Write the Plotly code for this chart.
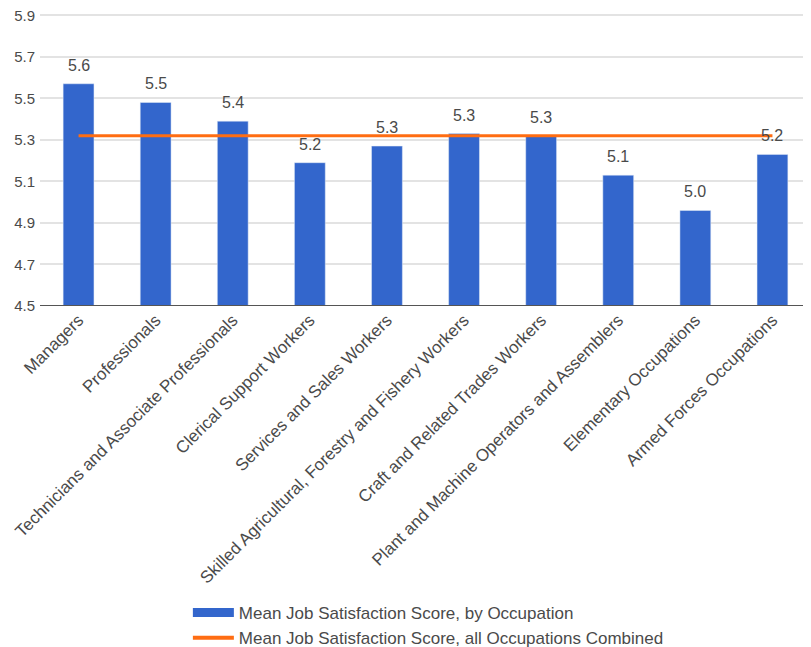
import plotly.graph_objects as go

categories = [
    "Managers",
    "Professionals",
    "Technicians and Associate Professionals",
    "Clerical Support Workers",
    "Services and Sales Workers",
    "Skilled Agricultural, Forestry and Fishery Workers",
    "Craft and Related Trades Workers",
    "Plant and Machine Operators and Assemblers",
    "Elementary Occupations",
    "Armed Forces Occupations",
]
occupation_scores = [5.57, 5.48, 5.39, 5.19, 5.27, 5.33, 5.32, 5.13, 4.96, 5.23]
combined_score = 5.32
combined_series = [combined_score] * len(categories)
y_ticks = [4.5, 4.7, 4.9, 5.1, 5.3, 5.5, 5.7, 5.9]

BLUE = "#3366cc"
ORANGE = "#ff6d12"
FONT = "Liberation Sans, Arial, sans-serif"
TXT = "#4a4a4a"

fig = go.Figure()
fig.add_trace(go.Bar(
    x=categories, y=occupation_scores, marker_color=BLUE,
    showlegend=False, name="Mean Job Satisfaction Score, by Occupation",
))
fig.add_trace(go.Scatter(
    x=categories, y=combined_series, mode="lines",
    line=dict(color=ORANGE, width=3), showlegend=False,
    name="Mean Job Satisfaction Score, all Occupations Combined",
))
# legend entries (wide swatches like the reference)
fig.add_trace(go.Scatter(
    x=[None], y=[None], mode="lines", line=dict(color=BLUE, width=9),
    name="Mean Job Satisfaction Score, by Occupation",
))
fig.add_trace(go.Scatter(
    x=[None], y=[None], mode="lines", line=dict(color=ORANGE, width=4),
    name="Mean Job Satisfaction Score, all Occupations Combined",
))

for c, v in zip(categories, occupation_scores):
    fig.add_annotation(
        x=c, y=v, text=f"{v:.1f}", showarrow=False, yanchor="bottom",
        yshift=8, font=dict(family=FONT, size=16, color=TXT),
    )

fig.update_layout(
    width=803, height=639,
    margin=dict(l=32, r=0, t=6, b=341, autoexpand=False),
    paper_bgcolor="white", plot_bgcolor="white",
    bargap=0.6,
    font=dict(family=FONT, size=16, color=TXT),
    legend=dict(
        xref="container", yref="container", x=0.224, y=0.0814,
        xanchor="left", yanchor="top", orientation="v",
        itemwidth=41, font=dict(family=FONT, size=17, color=TXT),
        tracegroupgap=0,
    ),
)
fig.update_xaxes(
    type="category", tickangle=-45, showgrid=False, automargin=False,
    showline=False, ticks="", tickfont=dict(family=FONT, size=17, color=TXT),
    ticklabeloverflow="allow",
)
fig.update_yaxes(
    range=[4.5, 5.906], tickvals=y_ticks, ticktext=[f"{t:.1f}" for t in y_ticks],
    showgrid=True, gridcolor="#e3e3e3", gridwidth=1.5, automargin=False,
    zeroline=False, showline=False, ticks="", ticklabelstandoff=4,
    ticklabeloverflow="allow",
    tickfont=dict(family=FONT, size=15, color=TXT),
)
fig.add_hline(y=4.5, line=dict(color="#555555", width=2), layer="above")

fig.write_html("out.html")
